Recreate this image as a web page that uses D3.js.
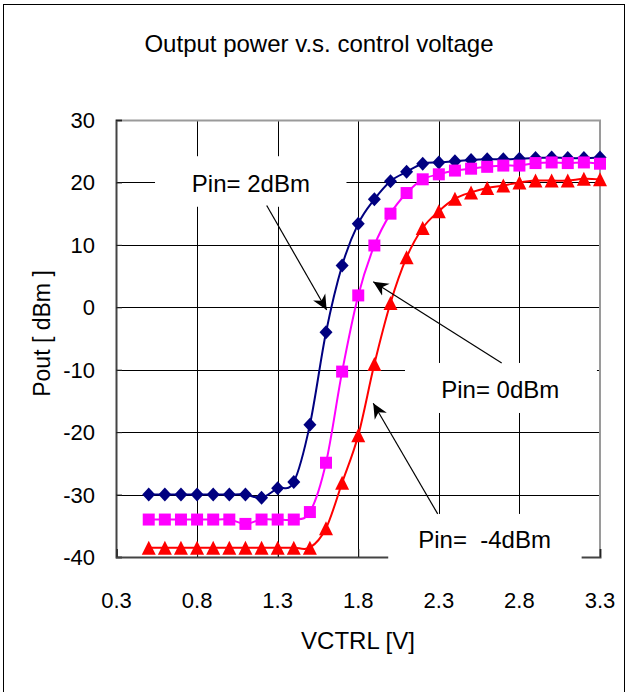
<!DOCTYPE html>
<html>
<head>
<meta charset="utf-8">
<script src="https://cdn.jsdelivr.net/npm/d3@7"></script>
<style>
body { margin: 0; background: #fff; }
svg { display: block; }
text { font-family: "Liberation Sans", Arial, sans-serif; fill: #000; }
</style>
</head>
<body>
<div id="chart"></div>
<script>
// control voltage steps (V)
var vctrl = [0.5, 0.6, 0.7, 0.8, 0.9, 1.0, 1.1, 1.2, 1.3, 1.4, 1.5, 1.6, 1.7, 1.8, 1.9,
             2.0, 2.1, 2.2, 2.3, 2.4, 2.5, 2.6, 2.7, 2.8, 2.9, 3.0, 3.1, 3.2, 3.3];

// output power (dBm) for each input power
var pout_2dBm = [-30, -30, -30, -30, -30, -30, -30, -30.5, -29, -28, -18.8, -4, 6.7, 13.4, 17.3,
                 20.2, 21.7, 23.0, 23.2, 23.4, 23.6, 23.7, 23.7, 23.8, 23.9, 24.0, 23.9, 23.9, 24.0];
var pout_0dBm = [-34, -34, -34, -34, -34, -34, -34.7, -34, -34, -34, -32.8, -24.9, -10.3, 1.9, 9.9,
                 15.0, 18.3, 20.5, 21.3, 21.9, 22.2, 22.5, 22.7, 22.7, 23.1, 23.2, 23.1, 23.2, 23.0];
var pout_m4dBm = [-38.5, -38.5, -38.5, -38.5, -38.5, -38.5, -38.5, -38.5, -38.5, -38.5, -38.5, -35.4, -28.1, -20.5, -9.1,
                  0.7, 8.0, 12.7, 15.4, 17.4, 18.4, 19.1, 19.5, 20.0, 20.3, 20.3, 20.3, 20.6, 20.5];

var xTicks = [0.3, 0.8, 1.3, 1.8, 2.3, 2.8, 3.3];
var yTicks = [30, 20, 10, 0, -10, -20, -30, -40];

var series = [
  {values: pout_2dBm, color: "#000080", marker: "diamond"},
  {values: pout_0dBm, color: "#ff00ff", marker: "square"},
  {values: pout_m4dBm, color: "#ff0000", marker: "triangle"}
];

// callout labels, anchored in data units (V, dBm)
var notes = [
  {label: "Pin= 2dBm", at: [1.134, 19.75], box: [0.539, 1.727, 24.2, 16.1], from: [1.232, 16.3], to: [1.604, -0.43]},
  {label: "Pin= 0dBm", at: [2.681, -13.25], box: [2.09, 3.281, -8.92, -16.93], from: [2.69, -8.92], to: [1.893, 4.1]},
  {label: "Pin=  -4dBm", at: [2.584, -37.27], box: [1.986, 3.186, -33.1, -42.1], from: [2.293, -33.1], to: [1.893, -15.38]}
];

var W = 627, H = 692;
var margin = {top: 120, right: 27, bottom: 135, left: 116};
var width = W - margin.left - margin.right,
    height = H - margin.top - margin.bottom;

var svg = d3.select("#chart").append("svg")
  .attr("width", W)
  .attr("height", H);

svg.append("rect").attr("width", W).attr("height", H).attr("fill", "#fff");
// outer frame
svg.append("rect")
  .attr("x", 3.5).attr("y", 4.5)
  .attr("width", 621).attr("height", 720)
  .attr("fill", "none").attr("stroke", "#000").attr("stroke-width", 1);

var g = svg.append("g")
  .attr("transform", "translate(" + margin.left + "," + margin.top + ")");

var x = d3.scaleLinear().domain([0.3, 3.3]).range([0.5, width]);
var y = d3.scaleLinear().domain([-40, 30]).range([height, 0]);

// gridlines
g.append("g").selectAll("line")
  .data(yTicks.slice(1, -1))
  .enter().append("line")
  .attr("x1", 0).attr("x2", width)
  .attr("y1", function(d) { return Math.round(y(d)) + 0.5; })
  .attr("y2", function(d) { return Math.round(y(d)) + 0.5; })
  .attr("stroke", "#000").attr("stroke-width", 1);
g.append("g").selectAll("line")
  .data(xTicks.slice(1, -1))
  .enter().append("line")
  .attr("y1", 0).attr("y2", height)
  .attr("x1", function(d) { return Math.round(x(d)) + 0.5; })
  .attr("x2", function(d) { return Math.round(x(d)) + 0.5; })
  .attr("stroke", "#000").attr("stroke-width", 1);

// plot border (top/right grey)
g.append("path")
  .attr("d", "M0,0.5H" + width + "V" + height)
  .attr("fill", "none").attr("stroke", "#9a9a9a").attr("stroke-width", 2);

// axes, ticks point inward
var yAxis = g.append("g")
  .call(d3.axisRight(y).tickValues(yTicks).tickSize(6).tickFormat(""));
var xAxis = g.append("g")
  .attr("transform", "translate(0," + height + ")")
  .call(d3.axisTop(x).tickValues(xTicks).tickSize(8).tickFormat(""));
[yAxis, xAxis].forEach(function(a) {
  a.selectAll("path").attr("stroke", "#444").attr("stroke-width", 2);
  a.selectAll("line").attr("stroke", "#222");
});

// tick labels
g.append("g").selectAll("text")
  .data(yTicks)
  .enter().append("text")
  .attr("x", -21)
  .attr("y", function(d) { return y(d) + 8; })
  .attr("text-anchor", "end")
  .style("font-size", "22px")
  .text(function(d) { return d; });
g.append("g").selectAll("text")
  .data(xTicks)
  .enter().append("text")
  .attr("x", function(d) { return x(d); })
  .attr("y", height + 51)
  .attr("text-anchor", "middle")
  .style("font-size", "22px")
  .text(function(d) { return d3.format(".1f")(d); });

// white boxes behind the callouts
notes.forEach(function(n) {
  g.append("rect")
    .attr("x", x(n.box[0])).attr("y", y(n.box[2]))
    .attr("width", x(n.box[1]) - x(n.box[0]))
    .attr("height", y(n.box[3]) - y(n.box[2]))
    .attr("fill", "#fff");
});

// series: smoothed line + markers
var line = d3.line()
  .x(function(d, i) { return x(vctrl[i]); })
  .y(function(d) { return y(d); })
  .curve(d3.curveCardinal.tension(0));

function markerPath(type) {
  if (type == "diamond") return "M0,-7L6.5,0L0,7L-6.5,0Z";
  if (type == "square") return "M-6,-6H6V6H-6Z";
  return "M0,-7L7,7H-7Z";
}

series.forEach(function(s) {
  g.append("path")
    .datum(s.values)
    .attr("fill", "none")
    .attr("stroke", s.color)
    .attr("stroke-width", 2)
    .attr("d", line);
  g.append("g").selectAll("path")
    .data(s.values)
    .enter().append("path")
    .attr("transform", function(d, i) { return "translate(" + x(vctrl[i]) + "," + y(d) + ")"; })
    .attr("d", markerPath(s.marker))
    .attr("fill", s.color);
});

// arrows
svg.append("defs").append("marker")
  .attr("id", "head")
  .attr("markerUnits", "userSpaceOnUse")
  .attr("viewBox", "-15 -8 16 16")
  .attr("markerWidth", 16).attr("markerHeight", 16)
  .attr("refX", 0).attr("refY", 0)
  .attr("orient", "auto")
  .append("path")
  .attr("d", "M0,0L-15,-7L-10.5,0L-15,7Z")
  .attr("fill", "#000");

notes.forEach(function(n) {
  g.append("line")
    .attr("x1", x(n.from[0])).attr("y1", y(n.from[1]))
    .attr("x2", x(n.to[0])).attr("y2", y(n.to[1]))
    .attr("stroke", "#000").attr("stroke-width", 1.2)
    .attr("marker-end", "url(#head)");
  g.append("text")
    .attr("x", x(n.at[0])).attr("y", y(n.at[1]))
    .attr("dy", "0.35em")
    .attr("text-anchor", "middle")
    .style("font-size", "24px")
    .style("white-space", "pre")
    .text(n.label);
});

// titles
svg.append("text")
  .attr("x", 319).attr("y", 52)
  .attr("text-anchor", "middle")
  .style("font-size", "24px")
  .text("Output power v.s. control voltage");
svg.append("text")
  .attr("x", margin.left + width / 2).attr("y", 649)
  .attr("text-anchor", "middle")
  .style("font-size", "24px")
  .text("VCTRL [V]");
svg.append("text")
  .attr("transform", "translate(50," + (margin.top + height / 2 - 5) + ") rotate(-90)")
  .attr("text-anchor", "middle")
  .style("font-size", "23px")
  .style("white-space", "pre")
  .text("Pout [ dBm ]");
</script>
</body>
</html>
